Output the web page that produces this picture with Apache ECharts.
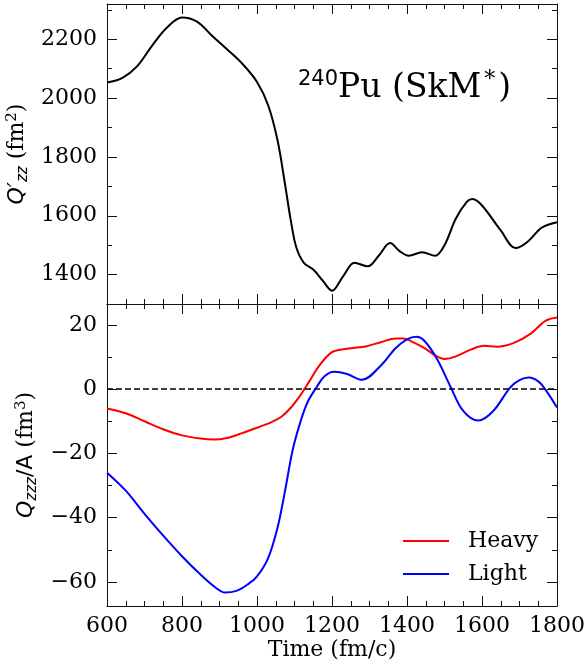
<!DOCTYPE html>
<html>
<head>
<meta charset="utf-8">
<script src="https://cdn.jsdelivr.net/npm/echarts@6/dist/echarts.min.js"></script>
<style>
html,body{margin:0;padding:0;background:#fff;}
#main{width:585px;height:666px;}
</style>
</head>
<body>
<div id="main"></div>
<script>
// ---- data ----
const topTime = [600,640,680,720,760,800,840,880,920,960,1000,1030,1055,1075,1090,1105,1125,1150,1175,1200,1230,1260,1295,1325,1355,1380,1405,1440,1475,1500,1530,1560,1575,1600,1650,1690,1720,1760,1800];
const topQzz  = [2053,2068,2108,2178,2240,2274,2260,2212,2166,2118,2055,1975,1855,1705,1585,1492,1440,1417,1380,1345,1395,1440,1428,1465,1507,1480,1464,1476,1464,1500,1590,1648,1657,1635,1550,1490,1510,1560,1578];

const heavyTime = [600,650,700,750,800,850,885,920,960,1000,1040,1065,1090,1115,1140,1160,1185,1205,1250,1290,1330,1370,1390,1420,1450,1475,1500,1530,1570,1605,1640,1685,1730,1770,1800];
const heavyQ    = [-6.0,-7.5,-10.0,-12.5,-14.4,-15.4,-15.7,-15.2,-13.7,-12.0,-10.2,-8.6,-5.8,-2.0,2.5,6.3,10.0,11.8,12.7,13.3,14.6,15.8,15.8,14.4,12.5,10.5,9.4,10.2,12.3,13.5,13.2,14.4,17.3,21.3,22.3];

const lightTime = [600,650,700,750,800,850,890,915,945,975,1000,1030,1055,1075,1095,1115,1135,1160,1180,1205,1240,1280,1330,1370,1400,1425,1445,1480,1515,1550,1590,1630,1675,1700,1725,1750,1770,1800];
const lightQ    = [-26.0,-31.6,-38.8,-45.6,-52.0,-57.8,-61.8,-63.3,-62.8,-60.8,-58.3,-52.5,-43.0,-31.5,-19.0,-10.5,-4.0,0.8,4.0,5.4,4.7,2.9,7.3,12.8,15.5,16.3,15.2,9.4,1.0,-6.8,-9.8,-6.8,0.5,2.8,3.6,2.4,-0.3,-5.7];

const xMajorTicks = [600,800,1000,1200,1400,1600,1800];
const xMinorTicks = [650,700,750,850,900,950,1050,1100,1150,1250,1300,1350,1450,1500,1550,1650,1700,1750];
const topMajorTicks = [1400,1600,1800,2000,2200];
const topMinorTicks = [1500,1700,1900,2100,2300];
const botMajorTicks = [-60,-40,-20,0,20];
const botMinorTicks = [-50,-30,-10,10];

const seriesNames = ['Heavy','Light'];

// ---- helpers ----
const pair = (xs, ys) => xs.map((x, i) => [x, ys[i]]);
const INK = '#111';
const SERIF = 'DejaVu Serif';
const SANS = 'DejaVu Sans';
const fmt = v => String(v).replace('-', '\u2212');

function axis(kind, gridIndex, position, ticks, len, isMajor, min, max, labels) {
  return {
    type: 'value', gridIndex, position, min, max,
    axisLine: { show: isMajor, onZero: false, lineStyle: { color: INK, width: 1 } },
    axisTick: { show: true, inside: true, length: len, customValues: ticks, lineStyle: { color: INK, width: 1 } },
    axisLabel: { show: !!labels, customValues: ticks, formatter: fmt,
      fontFamily: SERIF, fontSize: 22, color: '#000', margin: kind === 'x' ? 9 : 10 },
    splitLine: { show: false }
  };
}

const X0 = 600, X1 = 1800;
const T0 = 1300, T1 = 2320;
const B0 = -67.5, B1 = 26.5;

const xAxes = [
  axis('x', 0, 'bottom', xMajorTicks, 10, true, X0, X1, false),
  axis('x', 0, 'top', xMajorTicks, 10, true, X0, X1, false),
  axis('x', 0, 'bottom', xMinorTicks, 5, false, X0, X1, false),
  axis('x', 0, 'top', xMinorTicks, 5, false, X0, X1, false),
  axis('x', 1, 'bottom', xMajorTicks, 10, true, X0, X1, true),
  axis('x', 1, 'top', xMajorTicks, 10, true, X0, X1, false),
  axis('x', 1, 'bottom', xMinorTicks, 5, false, X0, X1, false),
  axis('x', 1, 'top', xMinorTicks, 5, false, X0, X1, false)
];
xAxes[4].name = 'Time (fm/c)';
xAxes[4].nameLocation = 'middle';
xAxes[4].nameGap = 33;
xAxes[4].nameTextStyle = { fontFamily: SERIF, fontSize: 22, color: '#000' };

const yAxes = [
  axis('y', 0, 'left', topMajorTicks, 10, true, T0, T1, true),
  axis('y', 0, 'right', topMajorTicks, 10, true, T0, T1, false),
  axis('y', 0, 'left', topMinorTicks, 5, false, T0, T1, false),
  axis('y', 0, 'right', topMinorTicks, 5, false, T0, T1, false),
  axis('y', 1, 'left', botMajorTicks, 10, true, B0, B1, true),
  axis('y', 1, 'right', botMajorTicks, 10, true, B0, B1, false),
  axis('y', 1, 'left', botMinorTicks, 5, false, B0, B1, false),
  axis('y', 1, 'right', botMinorTicks, 5, false, B0, B1, false)
];
yAxes[0].name = '{q|Q\u2032}{sub|zz}{t| (fm}{sup|2}{t|)}';
yAxes[0].nameLocation = 'middle';
yAxes[0].nameRotate = 90;
yAxes[0].nameGap = 71;
yAxes[0].nameTextStyle = {
  color: '#000',
  rich: {
    q: { fontFamily: SANS, fontStyle: 'italic', fontSize: 22, lineHeight: 26, color: '#000' },
    sub: { fontFamily: SANS, fontStyle: 'italic', fontSize: 15, lineHeight: 15, verticalAlign: 'bottom', color: '#000' },
    t: { fontFamily: SERIF, fontSize: 22, lineHeight: 26, color: '#000' },
    sup: { fontFamily: SERIF, fontSize: 15, lineHeight: 15, verticalAlign: 'top', color: '#000' }
  }
};
yAxes[4].name = '{q|Q}{sub|zzz}{a|/A}{t| (fm}{sup|3}{t|)}';
yAxes[4].nameLocation = 'middle';
yAxes[4].nameRotate = 90;
yAxes[4].nameGap = 60;
yAxes[4].nameTextStyle = {
  color: '#000',
  rich: {
    q: { fontFamily: SANS, fontStyle: 'italic', fontSize: 22, lineHeight: 26, color: '#000' },
    sub: { fontFamily: SANS, fontStyle: 'italic', fontSize: 15, lineHeight: 15, verticalAlign: 'bottom', color: '#000' },
    a: { fontFamily: SANS, fontSize: 22, lineHeight: 26, color: '#000' },
    t: { fontFamily: SERIF, fontSize: 22, lineHeight: 26, color: '#000' },
    sup: { fontFamily: SERIF, fontSize: 15, lineHeight: 15, verticalAlign: 'top', color: '#000' }
  }
};

const option = {
  animation: false,
  backgroundColor: '#fff',
  title: {
    text: '{sup|240}{m|Pu (SkM}{s2|*}{m|)}',
    left: 293, top: 64,
    textStyle: {
      fontWeight: 'normal',
      rich: {
        sup: { fontFamily: SANS, fontWeight: 'normal', fontSize: 21, lineHeight: 21, verticalAlign: 'top', color: '#000' },
        m: { fontFamily: SERIF, fontWeight: 'normal', fontSize: 33, lineHeight: 38, color: '#000' },
        s2: { fontFamily: SERIF, fontWeight: 'normal', fontSize: 22, lineHeight: 22, verticalAlign: 'top', color: '#000', padding: [0, 3, 0, 3] }
      }
    }
  },
  legend: {
    orient: 'vertical', left: 403, top: 530, padding: 0,
    data: seriesNames,
    icon: 'rect', itemWidth: 46, itemHeight: 2, itemGap: 11,
    textStyle: { fontFamily: SERIF, fontSize: 22, color: '#000', padding: [0, 0, 0, 14] }
  },
  grid: [
    { left: 107, top: 4, width: 450, height: 300, outerBoundsMode: 'none', containLabel: false },
    { left: 107, top: 304, width: 450, height: 302, outerBoundsMode: 'none', containLabel: false }
  ],
  xAxis: xAxes,
  yAxis: yAxes,
  series: [
    { type: 'line', name: 'Qzz', xAxisIndex: 0, yAxisIndex: 0, data: pair(topTime, topQzz),
      smooth: 0.35, showSymbol: false, symbol: 'none', color: '#000', lineStyle: { width: 2, color: '#000' } },
    { type: 'line', name: seriesNames[0], xAxisIndex: 4, yAxisIndex: 4, data: pair(heavyTime, heavyQ),
      smooth: 0.35, showSymbol: false, symbol: 'none', color: '#ff0000', lineStyle: { width: 2, color: '#ff0000' },
      markLine: { silent: true, symbol: ['none', 'none'], label: { show: false },
        lineStyle: { color: '#000', type: [6, 3], width: 1.5 }, data: [{ yAxis: 0 }] } },
    { type: 'line', name: seriesNames[1], xAxisIndex: 4, yAxisIndex: 4, data: pair(lightTime, lightQ),
      smooth: 0.35, showSymbol: false, symbol: 'none', color: '#0000ff', lineStyle: { width: 2, color: '#0000ff' } }
  ]
};

const chart = echarts.init(document.getElementById('main'), null, { renderer: 'canvas' });
chart.setOption(option);
</script>
</body>
</html>
